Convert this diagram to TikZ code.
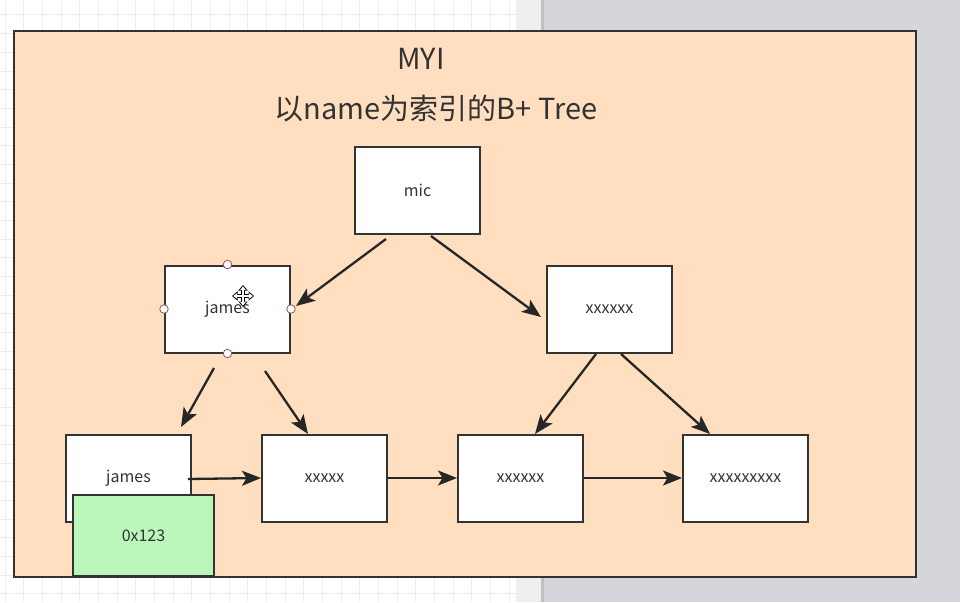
\documentclass[tikz,border=0pt]{standalone}
\usepackage{fontspec}
\setmainfont{Noto Sans CJK SC}
\usetikzlibrary{arrows.meta,calc}
\definecolor{orangefill}{HTML}{FFDFBF}
\definecolor{greenfill}{HTML}{BBF7BB}
\definecolor{edge}{HTML}{333333}
\definecolor{arrowc}{HTML}{262626}
\definecolor{gridc}{HTML}{EDEDED}
\definecolor{deskgray}{HTML}{D4D6DB}
\definecolor{stripgray}{HTML}{EEEEEE}
\definecolor{handle}{HTML}{A05050}
\tikzset{
  box/.style={draw=edge, line width=2pt, fill=white, minimum width=125pt, minimum height=87pt, inner sep=0pt, text=edge, font=\fontsize{16}{19}\selectfont},
  conn/.style={draw=arrowc, line width=2.3pt, -{Stealth[length=19pt,width=15pt,inset=4.5pt]}},
  hnd/.style={draw=handle, fill=white, line width=0.8pt, circle, inner sep=0pt, minimum size=8.5pt},
  titletext/.style={text=edge, inner sep=0pt}
}
\begin{document}
\begin{tikzpicture}[x=1pt,y=-1pt]
\useasboundingbox (0,0) rectangle (960,602);
% canvas background
\fill[white] (0,0) rectangle (516,602);
\foreach \gx in {5,23.67,...,516} \draw[gridc, line width=1pt] (\gx,0) -- (\gx,602);
\foreach \gy in {15,33.67,...,602} \draw[gridc, line width=1pt] (0,\gy) -- (516,\gy);
\fill[stripgray] (516,0) rectangle (541,602);
\fill[deskgray] (541,0) rectangle (960,602);
\fill[black!25] (541,0) rectangle (544,602);
% outer container
\node[draw=edge, line width=2pt, fill=orangefill, minimum width=902pt, minimum height=546pt, inner sep=0pt] (outer) at (465,304) {};
\node[titletext, font=\fontsize{29}{34}\selectfont] (title) at (421,59) {MYI};
\node[titletext, font=\fontsize{29}{34}\selectfont] (subtitle) at (436,109) {以name为索引的B+ Tree};
% tree nodes
\node[box] (mic) at (417.5,190.5) {mic};
\node[box] (jamesmid) at (227.5,309) {james};
\node[box] (xmid) at (609.5,309) {xxxxxx};
\node[box] (jamesleaf) at (128.5,478) {james};
\node[box] (x5) at (324.5,478) {xxxxx};
\node[box] (x6) at (520.5,478) {xxxxxx};
\node[box] (x9) at (745.5,478) {xxxxxxxxx};
\node[box, fill=greenfill, minimum width=141pt, minimum height=81pt] (addr) at (143.5,535.5) {0x123};
% connector end points
\coordinate (a1s) at (386,239); \coordinate (a1e) at (296,306);
\coordinate (a2s) at (431,236); \coordinate (a2e) at (541,317);
\coordinate (a3s) at (214,368); \coordinate (a3e) at (181,427);
\coordinate (a4s) at (265,371); \coordinate (a4e) at (308,434);
\coordinate (a5s) at (596,354); \coordinate (a5e) at (535,434);
\coordinate (a6s) at (621,354); \coordinate (a6e) at (710,434);
\coordinate (a7s) at (188,479);
% connectors
\draw[conn] (a1s) -- (a1e);
\draw[conn] (a2s) -- (a2e);
\draw[conn] (a3s) -- (a3e);
\draw[conn] (a4s) -- (a4e);
\draw[conn] (a5s) -- (a5e);
\draw[conn] (a6s) -- (a6e);
\draw[conn] (a7s) -- (x5.west);
\draw[conn] (x5.east) -- (x6.west);
\draw[conn] (x6.east) -- (x9.west);
% selection handles
\node[hnd] (h1) at (jamesmid.north) {};
\node[hnd] (h2) at (jamesmid.south) {};
\node[hnd] (h3) at (jamesmid.west) {};
\node[hnd] (h4) at (jamesmid.east) {};
% move cursor
\coordinate (cur) at (243,296);
\foreach \ang in {0,90,180,270}{
  \draw[black, line width=3.6pt, -{Triangle[length=5.5pt,width=9pt]}] (cur) -- ++(\ang:11);
}
\foreach \ang in {0,90,180,270}{
  \draw[white, line width=1.5pt, -{Triangle[length=3.8pt,width=5.5pt]}, shorten >=0.6pt] (cur) -- ++(\ang:10.3);
}
\end{tikzpicture}
\end{document}
